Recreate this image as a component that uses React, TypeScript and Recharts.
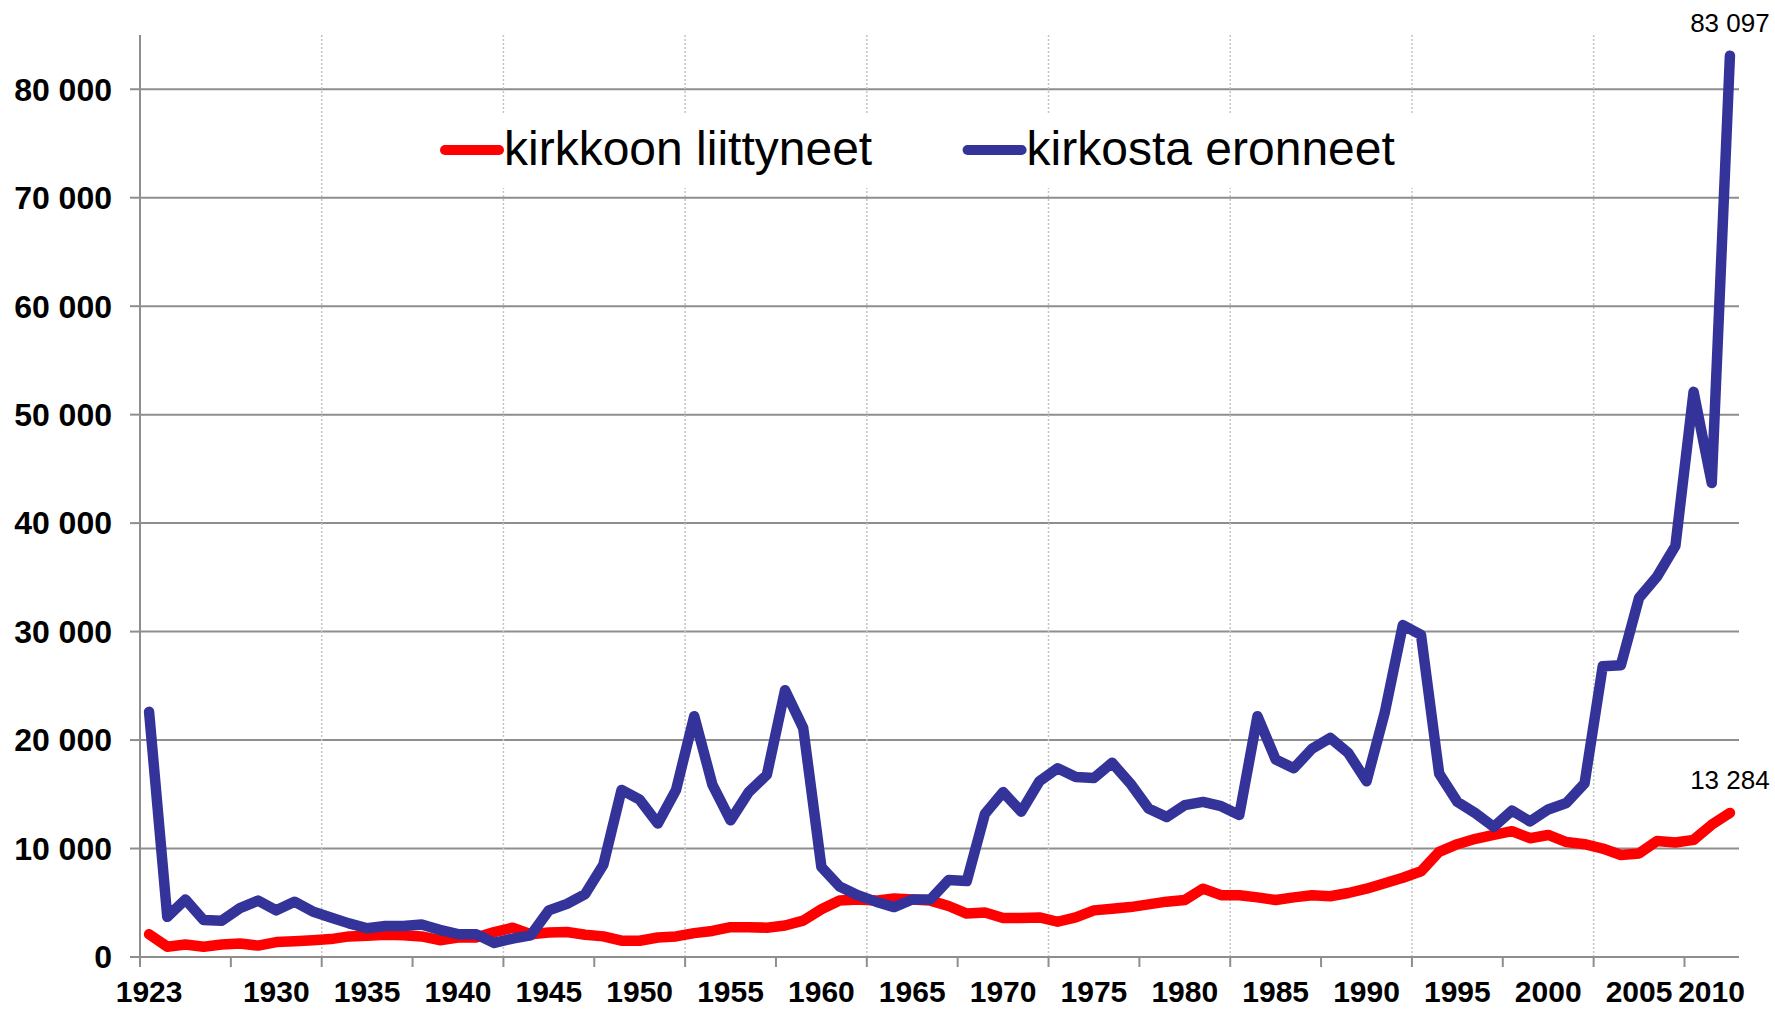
import { LineChart, Line, XAxis, YAxis, CartesianGrid, Legend, ReferenceLine } from 'recharts';

const years = [
  1923, 1924, 1925, 1926, 1927, 1928, 1929, 1930, 1931, 1932, 1933, 1934, 1935, 1936, 1937, 1938, 1939, 1940,
  1941, 1942, 1943, 1944, 1945, 1946, 1947, 1948, 1949, 1950, 1951, 1952, 1953, 1954, 1955, 1956, 1957, 1958,
  1959, 1960, 1961, 1962, 1963, 1964, 1965, 1966, 1967, 1968, 1969, 1970, 1971, 1972, 1973, 1974, 1975, 1976,
  1977, 1978, 1979, 1980, 1981, 1982, 1983, 1984, 1985, 1986, 1987, 1988, 1989, 1990, 1991, 1992, 1993, 1994,
  1995, 1996, 1997, 1998, 1999, 2000, 2001, 2002, 2003, 2004, 2005, 2006, 2007, 2008, 2009, 2010,
];

// kirkkoon liittyneet
const joined = [
  2100, 950, 1150, 950, 1150, 1250, 1050, 1380, 1450, 1550, 1650, 1900, 1950, 2050, 2000, 1900, 1550, 1800,
  1800, 2300, 2700, 2100, 2250, 2300, 2050, 1900, 1500, 1500, 1800, 1900, 2200, 2400, 2750, 2750, 2700, 2900,
  3350, 4400, 5200, 5300, 5200, 5400, 5300, 5200, 4700, 4000, 4100, 3600, 3600, 3650, 3250, 3650, 4300, 4450,
  4600, 4850, 5100, 5250, 6300, 5700, 5700, 5500, 5250, 5500, 5700, 5600, 5900, 6300, 6800, 7300, 7900, 9700,
  10400, 10900, 11250, 11600, 10950, 11250, 10600, 10400, 10000, 9400, 9550, 10700, 10550, 10800, 12200, 13284,
];

// kirkosta eronneet
const resigned = [
  22600, 3700, 5300, 3400, 3350, 4500, 5200, 4300, 5100, 4200, 3650, 3100, 2650, 2850, 2850, 3000, 2500, 2100,
  2100, 1300, 1700, 2000, 4300, 4900, 5800, 8500, 15400, 14500, 12300, 15400, 22200, 15900, 12600, 15200, 16800, 24600,
  21100, 8300, 6500, 5700, 5100, 4600, 5300, 5300, 7100, 7000, 13200, 15200, 13400, 16200, 17400, 16600, 16500, 17900,
  16000, 13700, 12900, 14000, 14300, 13900, 13100, 22200, 18200, 17400, 19200, 20200, 18800, 16200, 22500, 30600, 29700, 16900,
  14300, 13250, 12000, 13500, 12500, 13600, 14200, 16000, 26800, 26900, 33100, 35100, 37900, 52100, 43700, 83097,
];

const yTicks = [0, 10000, 20000, 30000, 40000, 50000, 60000, 70000, 80000];
const labelYears = [1923, 1930, 1935, 1940, 1945, 1950, 1955, 1960, 1965, 1970, 1975, 1980, 1985, 1990, 1995, 2000, 2005, 2010];
const markYears = [
  1922.5, 1927.5, 1932.5, 1937.5, 1942.5, 1947.5, 1952.5, 1957.5, 1962.5, 1967.5, 1972.5, 1977.5, 1982.5,
  1987.5, 1992.5, 1997.5, 2002.5, 2007.5,
];
const gridYears = [1932.5, 1942.5, 1952.5, 1962.5, 1972.5, 1982.5, 1992.5, 2002.5];

const data = years.map((year, i) => ({ year, joined: joined[i], resigned: resigned[i] }));

const FONT = '"Liberation Sans", Arial, sans-serif';
const GRAY = '#8e8e8e';

const fmt = (v: number) => String(Math.round(v)).replace(/\B(?=(\d{3})+(?!\d))/g, ' ');

const XTick = (props: any) => {
  const { x, y, payload } = props;
  const v = payload.value;
  if (!Number.isInteger(v)) {
    return <line x1={x} x2={x} y1={y - 10} y2={y} stroke={GRAY} strokeWidth={2} />;
  }
  const last = v === labelYears[labelYears.length - 1];
  return (
    <text
      x={last ? x + 15 : x}
      y={y + 35}
      textAnchor={last ? 'end' : 'middle'}
      fontFamily={FONT}
      fontWeight="bold"
      fontSize={30}
      fill="#000"
    >
      {v}
    </text>
  );
};

const endLabel = (props: any) => {
  const { x, y, value, index } = props;
  if (index !== years.length - 1) return <g key={index} />;
  return (
    <text key={index} x={x} y={y - 24} textAnchor="middle" fontFamily={FONT} fontSize={26} fill="#000">
      {fmt(value)}
    </text>
  );
};

const legendPos = [15, 537.6];

const renderLegend = (props: any) => {
  const { payload = [] } = props;
  return (
    <svg width={1000} height={75} style={{ display: 'block' }}>
      {payload.map((p: any, i: number) => (
        <g key={p.value}>
          <line
            x1={legendPos[i] + 5}
            x2={legendPos[i] + 59}
            y1={37}
            y2={37}
            stroke={p.color}
            strokeWidth={10}
            strokeLinecap="round"
          />
          <text x={legendPos[i] + 64} y={52} fontFamily={FONT} fontSize={48} fill="#000">
            {p.value}
          </text>
        </g>
      ))}
    </svg>
  );
};

export default function App() {
  return (
    <div style={{ position: 'absolute', left: 0, top: 0, background: '#fff' }}>
      <LineChart width={1775} height={1011} data={data} margin={{ top: 35, right: 36, left: 0, bottom: 0 }}>
        <CartesianGrid vertical={false} syncWithTicks stroke={GRAY} strokeWidth={2} />
        {gridYears.map((g) => (
          <ReferenceLine key={g} x={g} stroke="#c4c4c4" strokeWidth={1.5} strokeDasharray="2 2" />
        ))}
        <XAxis
          dataKey="year"
          type="number"
          domain={[1922.5, 2010.5]}
          ticks={[...markYears, ...labelYears].sort((a, b) => a - b)}
          interval={0}
          height={54}
          tickSize={10}
          tickMargin={0}
          tickLine={false}
          axisLine={{ stroke: GRAY, strokeWidth: 2 }}
          tick={XTick}
        />
        <YAxis
          type="number"
          domain={[0, 85000]}
          ticks={yTicks}
          interval={0}
          width={140}
          tickSize={10}
          tickMargin={18}
          axisLine={{ stroke: GRAY, strokeWidth: 2 }}
          tickLine={{ stroke: GRAY, strokeWidth: 2 }}
          tickFormatter={fmt}
          tick={{ fill: '#000', fontSize: 32, fontWeight: 'bold', fontFamily: FONT }}
        />
        <Legend
          verticalAlign="middle"
          align="center"
          layout="horizontal"
          content={renderLegend}
          wrapperStyle={{ top: 113, left: 425, width: 1000, height: 75, background: '#fff' }}
        />
        <Line
          type="linear"
          dataKey="joined"
          name="kirkkoon liittyneet"
          stroke="#ff0000"
          strokeWidth={10.5}
          strokeLinejoin="round"
          strokeLinecap="round"
          dot={false}
          activeDot={false}
          label={endLabel}
          isAnimationActive={false}
        />
        <Line
          type="linear"
          dataKey="resigned"
          name="kirkosta eronneet"
          stroke="#333399"
          strokeWidth={10.5}
          strokeLinejoin="round"
          strokeLinecap="round"
          dot={false}
          activeDot={false}
          label={endLabel}
          isAnimationActive={false}
        />
      </LineChart>
    </div>
  );
}
